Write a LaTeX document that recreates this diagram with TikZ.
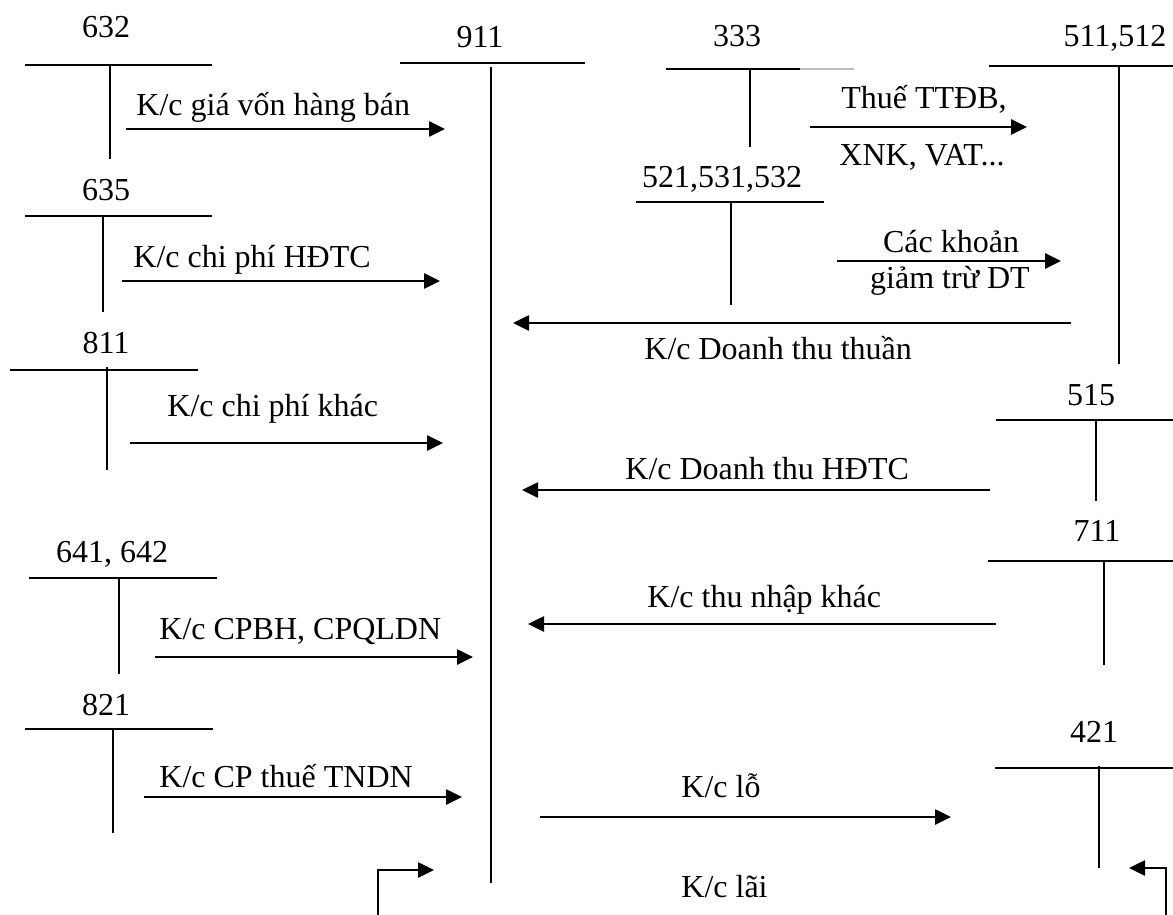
\documentclass[tikz,border=0pt]{standalone}
\usepackage{fontspec}
\setmainfont{Liberation Serif}
\usetikzlibrary{arrows.meta}
\tikzset{
  tline/.style={line width=0.9pt},
  flow/.style={line width=1.3pt, -{Triangle[length=8pt,width=7.5pt]}},
  acct/.style={inner sep=0pt, anchor=base},
  lbl/.style={inner sep=0pt, anchor=base west},
  clbl/.style={inner sep=0pt, anchor=base}
}
\begin{document}
\begin{tikzpicture}[x=0.5pt,y=-0.5pt,font=\fontsize{16}{19}\selectfont]
\useasboundingbox (0,0) rectangle (1173,915);

% ---- T accounts (left) ----
\node[acct] (t632) at (106,38) {632};
\draw[tline] (25,65) -- (212,65) (110,65) -- (110,159);
\node[acct] (t635) at (106,200) {635};
\draw[tline] (25,216) -- (212,216) (103,216) -- (103,312);
\node[acct] (t811) at (106,353) {811};
\draw[tline] (10,370) -- (198,370) (107,367) -- (107,470);
\node[acct] (t641) at (112,562) {641, 642};
\draw[tline] (29,578) -- (217,578) (119,578) -- (119,674);
\node[acct] (t821) at (106,715) {821};
\draw[tline] (25,729) -- (213,729) (113,729) -- (113,833);

% ---- 911 ----
\node[acct] (t911) at (480,48) {911};
\draw[tline] (400,63) -- (585,63) (491,67) -- (491,883);

% ---- T accounts (right) ----
\node[acct] (t333) at (737,47) {333};
\draw[tline] (666,69) -- (800,69) (750,69) -- (750,147);
\draw[line width=0.6pt,black!25] (800,69) -- (854,69);
\node[acct] (t521) at (722,187) {521,531,532};
\draw[tline] (636,202) -- (824,202) (731,202) -- (731,305);
\node[acct] (t511) at (1115,47) {511,512};
\draw[tline] (989,66) -- (1173,66) (1119,66) -- (1119,364);
\node[acct] (t515) at (1091,405) {515};
\draw[tline] (996,420) -- (1173,420) (1096,420) -- (1096,501);
\node[acct] (t711) at (1097,541) {711};
\draw[tline] (988,561) -- (1173,561) (1104,561) -- (1104,665);
\node[acct] (t421) at (1094,742) {421};
\draw[tline] (995,768) -- (1173,768) (1099,766) -- (1099,868);

% ---- connector end points ----
\coordinate (a1s) at (126,129);  \coordinate (a1e) at (445,129);
\coordinate (a2s) at (122,281);  \coordinate (a2e) at (440,281);
\coordinate (a3s) at (810,127);  \coordinate (a3e) at (1027,127);
\coordinate (a4s) at (837,261);  \coordinate (a4e) at (1061,261);
\coordinate (a5s) at (1071,323); \coordinate (a5e) at (513,323);
\coordinate (a6s) at (130,443);  \coordinate (a6e) at (443,443);
\coordinate (a7s) at (990,490);  \coordinate (a7e) at (522,490);
\coordinate (a8s) at (996,624);  \coordinate (a8e) at (528,624);
\coordinate (a9s) at (155,657);  \coordinate (a9e) at (473,657);
\coordinate (a10s) at (144,797); \coordinate (a10e) at (462,797);
\coordinate (a11s) at (540,817); \coordinate (a11e) at (951,817);
\coordinate (e1s) at (378,915);  \coordinate (e1c) at (378,870); \coordinate (e1e) at (434,870);
\coordinate (e2s) at (1166,915); \coordinate (e2c) at (1166,868); \coordinate (e2e) at (1129,868);

% ---- connectors ----
\draw[flow] (a1s) -- (a1e);
\draw[flow] (a2s) -- (a2e);
\draw[flow] (a3s) -- (a3e);
\draw[flow] (a4s) -- (a4e);
\draw[flow] (a5s) -- (a5e);
\draw[flow] (a6s) -- (a6e);
\draw[flow] (a7s) -- (a7e);
\draw[flow] (a8s) -- (a8e);
\draw[flow] (a9s) -- (a9e);
\draw[flow] (a10s) -- (a10e);
\draw[flow] (a11s) -- (a11e);
\draw[flow] (e1s) -- (e1c) -- (e1e);
\draw[flow] (e2s) -- (e2c) -- (e2e);

% ---- labels ----
\node[lbl] (l1) at (136,116) {K/c giá vốn hàng bán};
\node[lbl] (l2) at (133,267) {K/c chi phí HĐTC};
\node[clbl] (l3a) at (924,109) {Thuế TTĐB,};
\node[clbl] (l3b) at (922,165) {XNK, VAT...};
\node[clbl] (l4a) at (951,252) {Các khoản};
\node[clbl] (l4b) at (950,288) {giảm trừ DT};
\node[lbl] (l5) at (644,359) {K/c Doanh thu thuần};
\node[lbl] (l6) at (167,416) {K/c chi phí khác};
\node[lbl] (l7) at (625,479) {K/c Doanh thu HĐTC};
\node[lbl] (l8) at (647,607) {K/c thu nhập khác};
\node[lbl] (l9) at (159,639) {K/c CPBH, CPQLDN};
\node[lbl] (l10) at (159,787) {K/c CP thuế TNDN};
\node[lbl] (l11) at (681,797) {K/c lỗ};
\node[lbl] (l12) at (681,897) {K/c lãi};
\end{tikzpicture}
\end{document}
